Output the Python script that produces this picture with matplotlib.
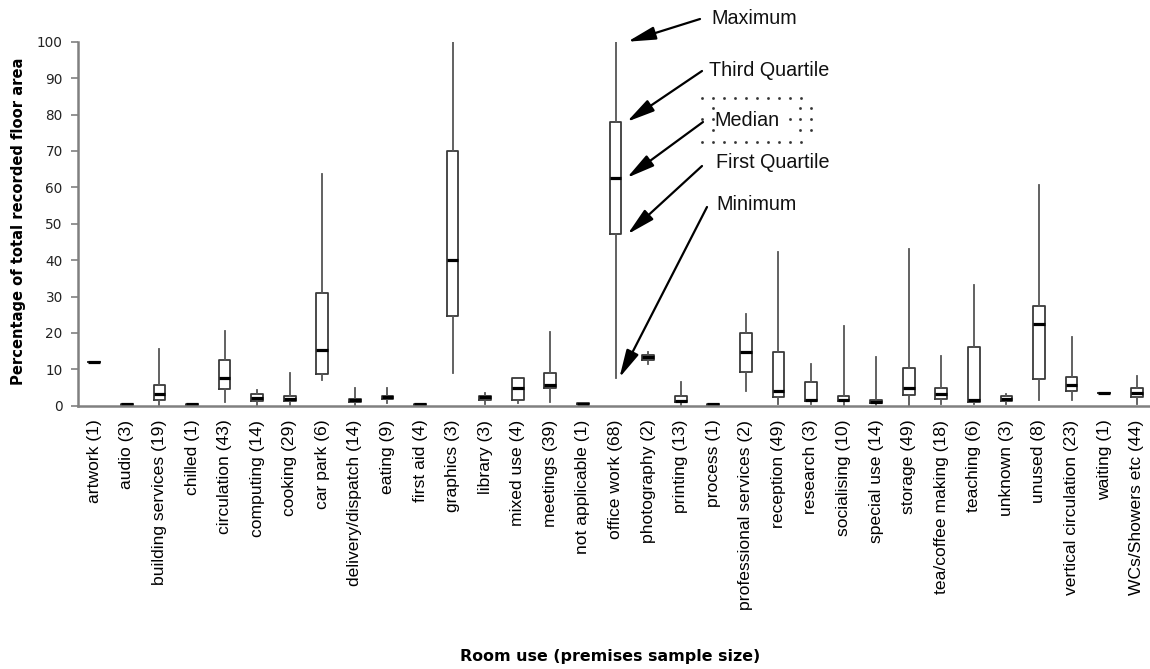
import numpy as np
import matplotlib
matplotlib.use("Agg")
import matplotlib.pyplot as plt

# Room uses with premises sample size
rooms = ["artwork (1)", "audio (3)", "building services (19)", "chilled (1)",
         "circulation (43)", "computing (14)", "cooking (29)", "car park (6)",
         "delivery/dispatch (14)", "eating (9)", "first aid (4)", "graphics (3)",
         "library (3)", "mixed use (4)", "meetings (39)", "not applicable (1)",
         "office work (68)", "photography (2)", "printing (13)", "process (1)",
         "professional services (2)", "reception (49)", "research (3)",
         "socialising (10)", "special use (14)", "storage (49)",
         "tea/coffee making (18)", "teaching (6)", "unknown (3)", "unused (8)",
         "vertical circulation (23)", "waiting (1)", "WCs/Showers etc (44)"]

# Percentage of total recorded floor area: five-number summaries
minimum = [12.1, 0.3, 0.2, 0.3, 0.9, 0.2, 0.1, 7.1, 0.3, 0.7, 0.3, 8.9,
           0.4, 0.7, 0.9, 0.5, 7.7, 11.4, 0.2, 0.3, 4.0, 0.5, 0.6, 0.2,
           0.1, 0.0, 0.4, 0.5, 0.4, 1.6, 1.6, 3.5, 0.6]
first_q = [12.1, 0.3, 1.5, 0.3, 4.5, 1.3, 1.3, 8.8, 0.9, 1.9, 0.3, 24.6,
           1.6, 1.5, 4.9, 0.5, 47.1, 12.5, 0.9, 0.3, 9.3, 2.3, 1.2, 1.4,
           0.7, 3.0, 1.8, 0.9, 1.3, 7.2, 4.1, 3.5, 2.5]
median = [12.1, 0.4, 3.3, 0.4, 7.7, 2.0, 1.9, 15.4, 1.5, 2.3, 0.4, 40.1,
          2.4, 4.8, 5.7, 0.6, 62.6, 13.3, 1.3, 0.4, 14.7, 4.0, 1.6, 1.7,
          1.1, 4.9, 3.2, 1.7, 1.9, 22.4, 5.8, 3.5, 3.6]
third_q = [12.1, 0.5, 5.7, 0.5, 12.5, 3.3, 2.6, 31.0, 1.8, 2.7, 0.5, 70.0,
           2.7, 7.5, 9.1, 0.7, 78.0, 13.9, 2.6, 0.5, 20.0, 14.8, 6.4, 2.8,
           1.5, 10.4, 4.9, 16.0, 2.6, 27.3, 7.8, 3.5, 4.9]
maximum = [12.1, 0.5, 15.5, 0.5, 20.6, 4.3, 8.9, 63.7, 4.8, 4.8, 0.5, 100.0,
           3.4, 7.5, 20.3, 0.7, 100.0, 14.8, 6.4, 0.5, 25.1, 42.3, 11.4, 22.0,
           13.4, 43.0, 13.7, 33.2, 3.1, 60.6, 18.8, 3.5, 8.2]

yticks = [0, 10, 20, 30, 40, 50, 60, 70, 80, 90, 100]

W, H = 1150, 669
fig = plt.figure(figsize=(W / 100, H / 100), dpi=100)
ax = fig.add_axes([78 / W, 263.3 / H, 1075 / W, 364 / H])

stats = [dict(med=md, q1=q1, q3=q3, whislo=lo, whishi=hi, fliers=[])
         for lo, q1, md, q3, hi in zip(minimum, first_q, median, third_q, maximum)]
pos = np.arange(len(rooms))
ax.bxp(stats, positions=pos, widths=0.36, showcaps=False, showfliers=False,
       patch_artist=False,
       boxprops=dict(color="#3a3a3a", linewidth=1.3),
       whiskerprops=dict(color="#555555", linewidth=1.3),
       medianprops=dict(color="black", linewidth=2.3, solid_capstyle="butt"))

ax.set_xlim(-0.5, len(rooms) - 0.5)
ax.set_ylim(0, 100)
ax.set_yticks(yticks)
ax.set_yticklabels([str(t) for t in yticks], fontsize=9.8,
                   family="DejaVu Sans", color="#222222")
ax.set_xticks(pos)
ax.set_xticklabels(rooms, rotation=90, fontsize=12.6, family="Liberation Sans",
                   va="top", ha="center")
ax.tick_params(axis="x", length=0, pad=10)
ax.tick_params(axis="y", length=5, width=1.2, color="#808080", pad=6)
for side in ("top", "right"):
    ax.spines[side].set_visible(False)
for side in ("left", "bottom"):
    ax.spines[side].set_color("#808080")
    ax.spines[side].set_linewidth(1.8)
ax.set_facecolor("none")

fig.text(18.5 / W, (H - 221.5) / H, "Percentage of total recorded floor area",
         rotation=90, ha="center", va="center", fontsize=10.6,
         fontweight="bold", family="DejaVu Sans")
fig.text(610 / W, 13 / H, "Room use (premises sample size)", ha="center",
         va="center", fontsize=11.4, fontweight="bold", family="DejaVu Sans")

# Key to the parts of a box, pointing at the office work box
office = rooms.index("office work (68)")
arrow = dict(arrowstyle="-|>,head_length=0.85,head_width=0.2", color="black",
             lw=1.6, mutation_scale=20, shrinkA=0, shrinkB=0)
key = [("Maximum", maximum[office], 0.37, (700, 650), (711, 650)),
       ("Third Quartile", third_q[office], 0.35, (702, 598), (709, 598)),
       ("Median", median[office], 0.35, (703, 547), (714, 549)),
       ("First Quartile", first_q[office], 0.37, (702, 503), (716, 507)),
       ("Minimum", minimum[office], 0.12, (707, 462), (716, 464))]
for label, value, dx, tail, text_at in key:
    ax.annotate("", xy=(office + dx, value), xycoords="data",
                xytext=tail, textcoords="figure pixels", arrowprops=arrow)
    fig.text(text_at[0] / W, text_at[1] / H, label, ha="left", va="center",
             fontsize=14.2, family="Liberation Sans", color="#111111")

# Dotted frame around the median label
dot_x = np.arange(702, 812, 11)
frame_pts = [(x, H - 97.5) for x in dot_x] + [(x, H - 141.7) for x in dot_x]
for y in (108.3, 119.3, 130.3):
    for x in (713, 800, 811):
        frame_pts.append((x, H - y))
frame_pts.append((702, H - 119.3))
frame_pts.append((790, H - 119.3))
fx, fy = zip(*frame_pts)
fig.add_artist(matplotlib.lines.Line2D(np.array(fx) / W, np.array(fy) / H,
                                       linestyle="none", marker="s",
                                       markersize=0.9, color="#333333",
                                       transform=fig.transFigure))

fig.savefig("out.png", dpi=100)
